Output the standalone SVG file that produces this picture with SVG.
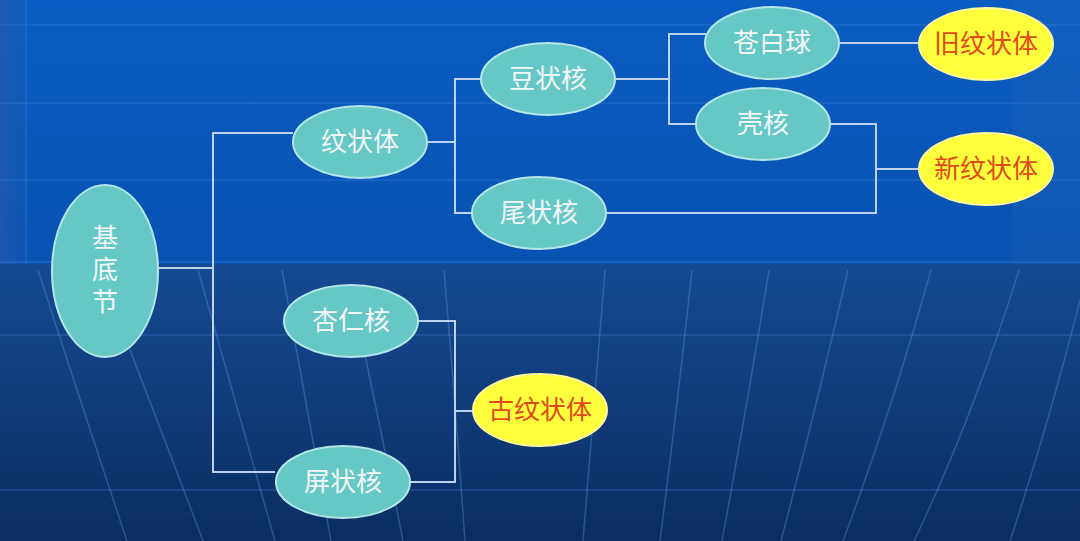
<svg xmlns="http://www.w3.org/2000/svg" width="1080" height="541" viewBox="0 0 1080 541">
  <defs>
    <linearGradient id="bgTop" x1="0" y1="0" x2="0" y2="1">
      <stop offset="0" stop-color="#0a5cc2"/>
      <stop offset="1" stop-color="#0852b2"/>
    </linearGradient>
    <linearGradient id="bgBot" x1="0" y1="0" x2="0" y2="1">
      <stop offset="0" stop-color="#164a92"/>
      <stop offset="1" stop-color="#0b2d62"/>
    </linearGradient>
    <linearGradient id="bgLeft" x1="0" y1="0" x2="1" y2="0">
      <stop offset="0" stop-color="#2a5aa8" stop-opacity="0.6"/>
      <stop offset="1" stop-color="#2a5aa8" stop-opacity="0"/>
    </linearGradient>
    <style>
      .grid { stroke: #4d8ee0; stroke-opacity: 0.3; stroke-width: 1.5; fill: none; }
      .fan { stroke: #5a95e0; stroke-opacity: 0.38; stroke-width: 1.5; fill: none; }
      .conn { stroke: #bcd2f0; stroke-width: 2; fill: none; }
      .teal ellipse { fill: #66c8c6; stroke: #b4e6e8; stroke-width: 2; }
      .gold ellipse { fill: #ffff3c; stroke: #fff8a0; stroke-width: 2; }
      .teal text { fill: #f2f6f6; font-family: "Noto Sans CJK SC", sans-serif; font-size: 26px; text-anchor: middle; }
      .gold text { fill: #e04a18; font-family: "Noto Sans CJK SC", sans-serif; font-size: 26px; text-anchor: middle; }
      .vert { writing-mode: vertical-rl; letter-spacing: 6px; }
    </style>
  </defs>

  <!-- background -->
  <rect x="0" y="0" width="1080" height="264" fill="url(#bgTop)"/>
  <rect x="0" y="264" width="1080" height="277" fill="url(#bgBot)"/>
  <rect x="0" y="0" width="30" height="264" fill="url(#bgLeft)"/>
  <rect x="1012" y="0" width="68" height="264" fill="#3a6fb8" fill-opacity="0.15"/>
  <line class="grid" x1="0" y1="25" x2="1080" y2="25"/>
  <line class="grid" x1="0" y1="103" x2="1080" y2="103"/>
  <line class="grid" x1="0" y1="180" x2="1080" y2="180"/>
  <line class="grid" x1="0" y1="262" x2="1080" y2="262" stroke-opacity="0.6"/>
  <line class="grid" x1="0" y1="335" x2="1080" y2="335" stroke-opacity="0.18"/>
  <line class="grid" x1="0" y1="490" x2="1080" y2="490" stroke-opacity="0.18"/>
  <line class="grid" x1="26" y1="0" x2="26" y2="264" stroke-opacity="0.2"/>
  <path class="fan" d="M38,270 Q80,400 127,541"/>
  <path class="fan" d="M128,345 Q165,440 203,541"/>
  <path class="fan" d="M198,270 Q235,400 275,541"/>
  <path class="fan" d="M282,270 Q305,400 331,541"/>
  <path class="fan" d="M365,355 Q385,450 403,541"/>
  <path class="fan" d="M444,270 Q455,400 465,541"/>
  <path class="fan" d="M605,270 Q594,400 583,541"/>
  <path class="fan" d="M692,270 Q678,400 660,541"/>
  <path class="fan" d="M769,270 Q748,400 722,541"/>
  <path class="fan" d="M848,270 Q818,400 781,541"/>
  <path class="fan" d="M931,270 Q892,410 843,541"/>
  <path class="fan" d="M1019,270 Q972,420 914,541"/>
  <path class="fan" d="M1080,300 Q1050,420 1010,541" stroke-opacity="0.25"/>

  <!-- connectors -->
  <g id="connectors">
    <path class="conn" d="M158,268 H213"/>
    <path class="conn" d="M293,133 H213 V472 H275"/>
    <path class="conn" d="M428,142 H455"/>
    <path class="conn" d="M482,79 H455 V213 H472"/>
    <path class="conn" d="M616,79 H669"/>
    <path class="conn" d="M706,34 H669 V124 H697"/>
    <path class="conn" d="M840,43 H919"/>
    <path class="conn" d="M829,124 H876 V213 H607"/>
    <path class="conn" d="M876,169 H919"/>
    <path class="conn" d="M418,321 H455 V482 H410"/>
    <path class="conn" d="M455,411 H473"/>
  </g>

  <!-- nodes -->
  <g id="jidijie" class="teal">
    <ellipse cx="105" cy="271" rx="53" ry="86"/>
    <text class="vert" x="105" y="272">基底节</text>
  </g>
  <g id="wenzhuangti" class="teal">
    <ellipse cx="360" cy="142" rx="67" ry="36"/>
    <text x="360" y="151">纹状体</text>
  </g>
  <g id="douzhuanghe" class="teal">
    <ellipse cx="548" cy="79" rx="67" ry="36"/>
    <text x="548" y="88">豆状核</text>
  </g>
  <g id="weizhuanghe" class="teal">
    <ellipse cx="539" cy="213" rx="67" ry="36"/>
    <text x="539" y="222">尾状核</text>
  </g>
  <g id="cangbaiqiu" class="teal">
    <ellipse cx="772" cy="43" rx="67" ry="36"/>
    <text x="772" y="52">苍白球</text>
  </g>
  <g id="kehe" class="teal">
    <ellipse cx="763" cy="124" rx="67" ry="36"/>
    <text x="763" y="133">壳核</text>
  </g>
  <g id="xingrenhe" class="teal">
    <ellipse cx="351" cy="321" rx="67" ry="36"/>
    <text x="351" y="330">杏仁核</text>
  </g>
  <g id="pingzhuanghe" class="teal">
    <ellipse cx="343" cy="482" rx="67" ry="36"/>
    <text x="343" y="491">屏状核</text>
  </g>
  <g id="jiuwenzhuangti" class="gold">
    <ellipse cx="986" cy="44" rx="67" ry="36"/>
    <text x="986" y="53">旧纹状体</text>
  </g>
  <g id="xinwenzhuangti" class="gold">
    <ellipse cx="986" cy="169" rx="67" ry="36"/>
    <text x="986" y="178">新纹状体</text>
  </g>
  <g id="guwenzhuangti" class="gold">
    <ellipse cx="540" cy="410" rx="67" ry="36"/>
    <text x="540" y="419">古纹状体</text>
  </g>
</svg>
